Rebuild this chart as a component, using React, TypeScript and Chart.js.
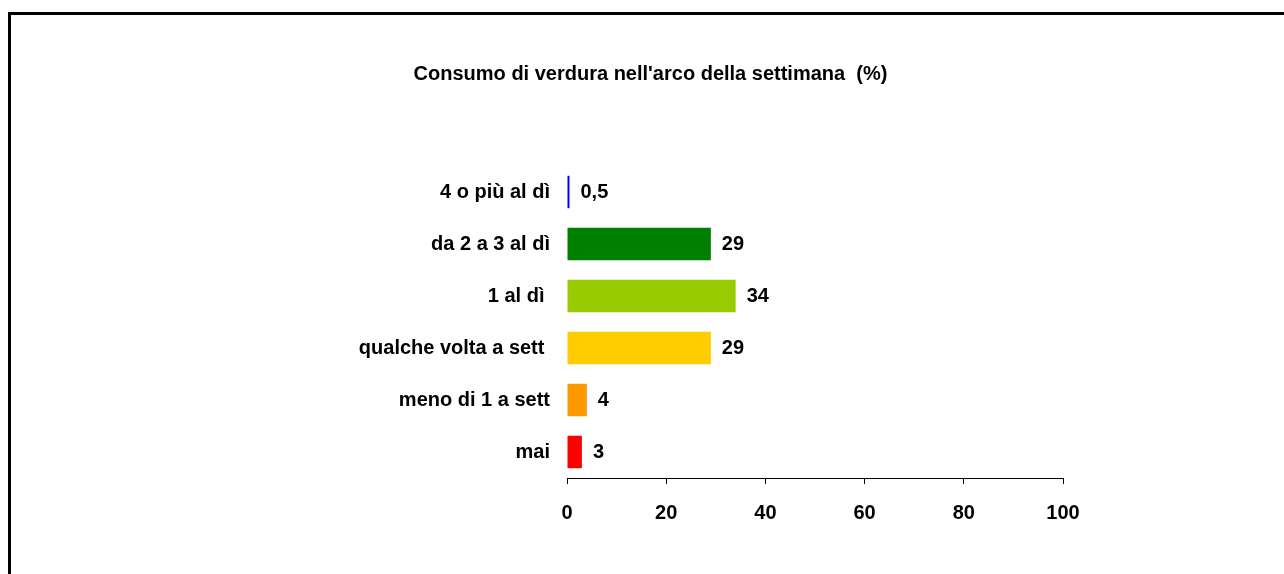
import React, { useEffect, useRef } from "react";
import { Chart, registerables } from "chart.js";

Chart.register(...registerables);

const categories = [
  "4 o più al dì",
  "da 2 a 3 al dì",
  "1 al dì ",
  "qualche volta a sett ",
  "meno di 1 a sett",
  "mai",
];
const values = [0.5, 29, 34, 29, 4, 3];
const barColors = ["#0000FF", "#008000", "#99CC00", "#FFCC00", "#FF9900", "#FF0000"];
const xTicks = [0, 20, 40, 60, 80, 100];
const titleText = "Consumo di verdura nell'arco della settimana  (%)";

const FONT = "'Liberation Sans', Arial, sans-serif";
const FONT_SIZE = 20;

const valueLabels = {
  id: "valueLabels",
  afterDatasetsDraw(chart: any) {
    const ctx = chart.ctx;
    const meta = chart.getDatasetMeta(0);
    ctx.save();
    ctx.font = `bold ${FONT_SIZE}px ${FONT}`;
    ctx.fillStyle = "#000";
    ctx.textAlign = "left";
    ctx.textBaseline = "middle";
    meta.data.forEach((bar: any, i: number) => {
      const label = String(values[i]).replace(".", ",");
      ctx.fillText(label, bar.x + 11, bar.y);
    });
    ctx.restore();
  },
};

export default function App() {
  const canvasRef = useRef<HTMLCanvasElement | null>(null);

  useEffect(() => {
    if (!canvasRef.current) return;
    const chart = new Chart(canvasRef.current, {
      type: "bar",
      data: {
        labels: categories,
        datasets: [
          {
            data: values,
            backgroundColor: barColors,
            borderWidth: 0,
            categoryPercentage: 1,
            barPercentage: 0.625,
          },
        ],
      },
      options: {
        indexAxis: "y",
        animation: false,
        responsive: false,
        maintainAspectRatio: false,
        devicePixelRatio: 1,
        layout: { padding: { left: 227, right: 221, top: 0, bottom: 36 } },
        plugins: {
          legend: { display: false },
          tooltip: { enabled: false },
          title: {
            display: true,
            text: titleText,
            color: "#000",
            font: { family: FONT, size: FONT_SIZE, weight: "bold" },
            padding: { top: 47, bottom: 80 },
          },
        },
        scales: {
          y: {
            type: "category",
            grid: { display: false, drawTicks: false },
            border: { display: false },
            ticks: {
              color: "#000",
              padding: 17,
              font: { family: FONT, size: FONT_SIZE, weight: "bold" },
            },
            afterFit(scale: any) {
              scale.width = 329;
            },
          },
          x: {
            type: "linear",
            min: 0,
            max: 100,
            afterBuildTicks(scale: any) {
              scale.ticks = xTicks.map((v) => ({ value: v }));
            },
            grid: {
              display: true,
              drawOnChartArea: false,
              drawTicks: true,
              tickLength: 6,
              color: "#000",
              lineWidth: 1,
            },
            border: { display: true, color: "#000", width: 1 },
            ticks: {
              color: "#000",
              padding: 17,
              maxRotation: 0,
              autoSkip: false,
              font: { family: FONT, size: FONT_SIZE, weight: "bold" },
            },
            afterFit(scale: any) {
              scale.height = 60;
            },
          },
        },
      },
      plugins: [valueLabels],
    } as any);
    return () => chart.destroy();
  }, []);

  return (
    <div
      style={{
        position: "fixed",
        left: 8,
        top: 12,
        width: 1276,
        height: 562,
        borderTop: "3px solid #000",
        borderLeft: "3px solid #000",
        boxSizing: "border-box",
        background: "#fff",
        overflow: "hidden",
      }}
    >
      <canvas ref={canvasRef} width={1273} height={559} style={{ display: "block", width: 1273, height: 559 }} />
    </div>
  );
}
